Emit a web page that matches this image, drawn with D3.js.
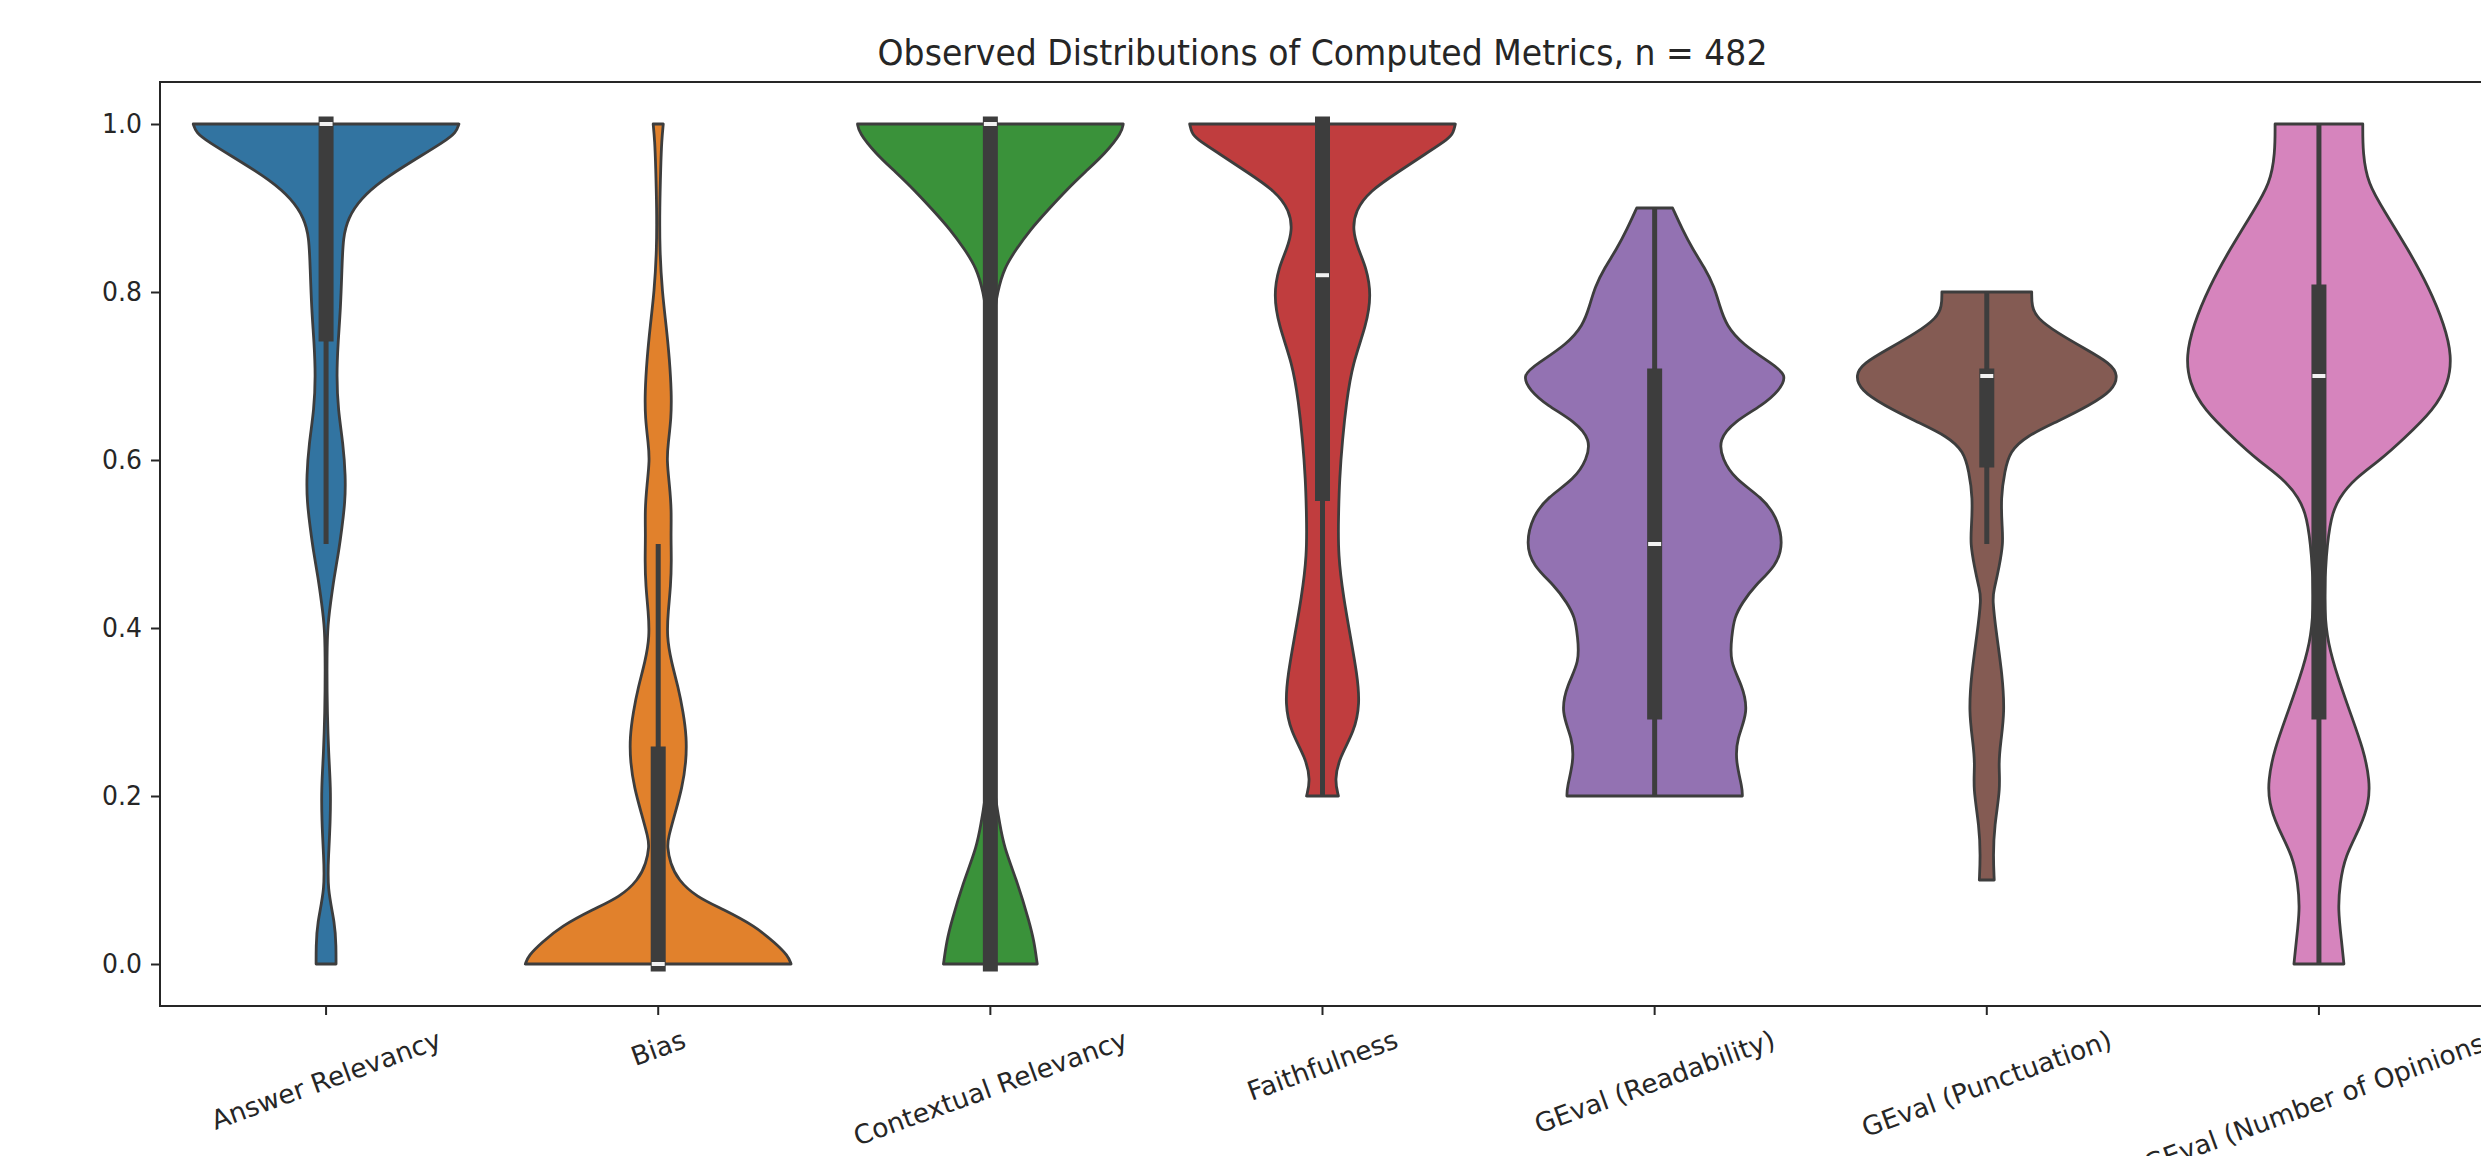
<!DOCTYPE html>
<html>
<head>
<meta charset="utf-8">
<script src="https://cdn.jsdelivr.net/npm/d3@7"></script>
<style>
  html, body { margin: 0; padding: 0; background: #ffffff; overflow: hidden; }
  svg { display: block; }
</style>
</head>
<body>
<svg id="chart" width="2481" height="1156"></svg>
<script>
// ---- data ----------------------------------------------------------------
const chartTitle = "Observed Distributions of Computed Metrics, n = 482";

const categories = [
  "Answer Relevancy", "Bias", "Contextual Relevancy", "Faithfulness",
  "GEval (Readability)", "GEval (Punctuation)", "GEval (Number of Opinions)"
];

const palette = ["#3274a1", "#e1812c", "#3a923a", "#c03d3e", "#9372b2", "#845b53", "#d684bd"];

const yTickValues = [0.0, 0.2, 0.4, 0.6, 0.8, 1.0];

// Kernel density profiles: [score, density relative to the widest violin]
const answerRelevancyDensity = [[1.0,1.0],[0.99,0.98],[0.979,0.89],[0.956,0.65],[0.933,0.42],[0.911,0.26],[0.888,0.165],[0.865,0.128],[0.83,0.12],[0.78,0.109],[0.74,0.09],[0.70,0.079],[0.66,0.09],[0.62,0.128],[0.58,0.147],[0.55,0.143],[0.52,0.12],[0.49,0.094],[0.46,0.06],[0.43,0.034],[0.40,0.009],[0.35,0.006],[0.30,0.009],[0.25,0.019],[0.21,0.035],[0.17,0.032],[0.13,0.019],[0.09,0.008],[0.048,0.068],[0.02,0.075],[0.0,0.075]];
const biasDensity = [[1.0,0.038],[0.98,0.026],[0.95,0.019],[0.9,0.011],[0.85,0.011],[0.8,0.03],[0.76,0.06],[0.72,0.085],[0.68,0.1],[0.65,0.098],[0.62,0.075],[0.6,0.064],[0.57,0.085],[0.54,0.1],[0.51,0.095],[0.48,0.1],[0.45,0.094],[0.42,0.075],[0.39,0.064],[0.36,0.098],[0.33,0.15],[0.30,0.188],[0.27,0.214],[0.24,0.21],[0.21,0.18],[0.18,0.128],[0.15,0.075],[0.14,0.068],[0.12,0.09],[0.10,0.15],[0.08,0.286],[0.065,0.49],[0.045,0.73],[0.025,0.88],[0.01,0.977],[0.0,1.0]];
const contextualRelevancyDensity = [[1.0,1.0],[0.99,0.99],[0.965,0.865],[0.943,0.714],[0.92,0.564],[0.897,0.43],[0.874,0.3],[0.851,0.195],[0.829,0.105],[0.80,0.053],[0.77,0.023],[0.70,0.008],[0.50,0.004],[0.30,0.008],[0.22,0.023],[0.19,0.045],[0.17,0.068],[0.14,0.1],[0.096,0.207],[0.05,0.293],[0.028,0.328],[0.0,0.353]];
const faithfulnessDensity = [[1.0,1.0],[0.99,0.985],[0.983,0.955],[0.965,0.78],[0.943,0.571],[0.92,0.353],[0.897,0.248],[0.874,0.226],[0.851,0.268],[0.829,0.33],[0.797,0.368],[0.76,0.33],[0.715,0.226],[0.669,0.18],[0.624,0.15],[0.578,0.128],[0.533,0.12],[0.487,0.117],[0.436,0.158],[0.39,0.21],[0.345,0.26],[0.31,0.282],[0.277,0.24],[0.246,0.128],[0.219,0.09],[0.2,0.12]];
const readabilityDensity = [[0.9,0.135],[0.874,0.21],[0.851,0.286],[0.829,0.376],[0.806,0.45],[0.783,0.49],[0.76,0.54],[0.738,0.66],[0.715,0.88],[0.701,1.0],[0.683,0.94],[0.665,0.81],[0.646,0.6],[0.624,0.48],[0.601,0.51],[0.578,0.6],[0.555,0.81],[0.533,0.917],[0.501,0.97],[0.474,0.917],[0.45,0.75],[0.43,0.66],[0.413,0.6],[0.39,0.58],[0.36,0.564],[0.332,0.66],[0.3,0.707],[0.268,0.617],[0.241,0.61],[0.21,0.66],[0.2,0.66]];
const punctuationDensity = [[0.8,0.338],[0.783,0.338],[0.769,0.376],[0.751,0.534],[0.733,0.733],[0.715,0.932],[0.701,0.99],[0.683,0.95],[0.665,0.774],[0.646,0.534],[0.628,0.293],[0.61,0.173],[0.587,0.135],[0.555,0.105],[0.519,0.116],[0.501,0.123],[0.474,0.095],[0.446,0.056],[0.436,0.04],[0.39,0.075],[0.345,0.116],[0.3,0.135],[0.264,0.104],[0.237,0.088],[0.21,0.104],[0.164,0.056],[0.128,0.048],[0.1,0.056]];
const opinionsDensity = [[1.0,0.33],[0.965,0.33],[0.929,0.368],[0.897,0.49],[0.851,0.67],[0.806,0.827],[0.76,0.947],[0.724,1.0],[0.692,0.977],[0.66,0.868],[0.624,0.63],[0.601,0.47],[0.578,0.27],[0.555,0.15],[0.533,0.09],[0.487,0.053],[0.433,0.038],[0.39,0.058],[0.355,0.113],[0.3,0.233],[0.255,0.337],[0.218,0.383],[0.192,0.376],[0.164,0.316],[0.128,0.195],[0.096,0.158],[0.065,0.143],[0.028,0.17],[0.0,0.188]];

const densityProfiles = [
  answerRelevancyDensity, biasDensity, contextualRelevancyDensity, faithfulnessDensity,
  readabilityDensity, punctuationDensity, opinionsDensity
];

// Box summary per metric
const quartile1   = [0.75, 0.00, 0.00, 0.56, 0.30, 0.60, 0.30];
const medians     = [1.00, 0.00, 1.00, 0.82, 0.50, 0.70, 0.70];
const quartile3   = [1.00, 0.25, 1.00, 1.00, 0.70, 0.70, 0.80];
const whiskerLow  = [0.50, 0.00, 0.00, 0.20, 0.20, 0.50, 0.00];
const whiskerHigh = [1.00, 0.50, 1.00, 1.00, 0.90, 0.80, 1.00];

// ---- layout ----------------------------------------------------------------
const margin = { left: 160, right: 2485, top: 82, bottom: 1006 };
const font = "DejaVu Sans, Liberation Sans, sans-serif";
const ink = "#262626";
const lineColor = "#3d3d3d";
const tickFont = 27;
const labelFont = 26.5;
const labelAngle = 20;

const svg = d3.select("#chart");

const x = d3.scaleBand().domain(categories).range([margin.left, margin.right]).padding(0);
const y = d3.scaleLinear().domain([-0.05, 1.05]).range([margin.bottom, margin.top]);
const halfWidth = d3.scaleLinear().domain([0, 1]).range([0, x.bandwidth() * 0.4]);
const cx = c => x(c) + x.bandwidth() / 2;

// ---- violins ---------------------------------------------------------------
const plot = svg.append("g");

categories.forEach((cat, i) => {
  const pts = densityProfiles[i].slice().sort((a, b) => a[0] - b[0]);
  const c = cx(cat);
  const area = d3.area()
    .curve(d3.curveBasis)
    .y(d => y(d[0]))
    .x0(d => c - halfWidth(d[1]))
    .x1(d => c + halfWidth(d[1]));

  plot.append("path")
    .attr("d", area(pts))
    .attr("fill", palette[i])
    .attr("stroke", lineColor)
    .attr("stroke-width", 2.8)
    .attr("stroke-linejoin", "round");

  // whisker
  plot.append("line")
    .attr("x1", c).attr("x2", c)
    .attr("y1", y(whiskerLow[i])).attr("y2", y(whiskerHigh[i]))
    .attr("stroke", lineColor).attr("stroke-width", 5);

  // interquartile box
  plot.append("line")
    .attr("x1", c).attr("x2", c)
    .attr("y1", y(quartile1[i])).attr("y2", y(quartile3[i]))
    .attr("stroke", lineColor).attr("stroke-width", 15)
    .attr("stroke-linecap", "square");

  // median marker
  plot.append("rect")
    .attr("x", c - 6.5).attr("y", y(medians[i]) - 2)
    .attr("width", 13).attr("height", 4)
    .attr("fill", "#f2f2f2");
});

// ---- axes ------------------------------------------------------------------
const yAxis = svg.append("g")
  .attr("transform", `translate(${margin.left},0)`)
  .call(d3.axisLeft(y).tickValues(yTickValues).tickFormat(d3.format(".1f"))
    .tickSize(9).tickPadding(9).tickSizeOuter(0));
yAxis.select(".domain").remove();
yAxis.selectAll(".tick line").attr("stroke", ink).attr("stroke-width", 2);
yAxis.selectAll(".tick text")
  .attr("fill", ink).style("font-family", font).style("font-size", tickFont + "px")
  .attr("x", 0)
  .attr("transform", "translate(-18,0) scale(0.93,1)");

const xAxis = svg.append("g")
  .attr("transform", `translate(0,${margin.bottom})`)
  .call(d3.axisBottom(x).tickSize(9).tickSizeOuter(0));
xAxis.select(".domain").remove();
xAxis.selectAll(".tick line").attr("stroke", ink).attr("stroke-width", 2);

// rotated category labels, centred under each tick with the top of their box just below it
const angle = labelAngle * Math.PI / 180;
xAxis.selectAll(".tick text")
  .attr("fill", ink)
  .style("font-family", font).style("font-size", labelFont + "px")
  .attr("text-anchor", "middle")
  .attr("dy", null)
  .each(function () {
    const w = this.getComputedTextLength();
    const h = labelFont * 1.164;
    const half = (w / 2) * Math.sin(angle) + (h / 2) * Math.cos(angle);
    d3.select(this)
      .attr("y", labelFont * 0.346)
      .attr("transform", `translate(0,${18 + half}) rotate(${-labelAngle})`);
  });

// spines
svg.append("rect")
  .attr("x", margin.left).attr("y", margin.top)
  .attr("width", margin.right - margin.left).attr("height", margin.bottom - margin.top)
  .attr("fill", "none").attr("stroke", ink).attr("stroke-width", 2);

// title
svg.append("text")
  .attr("transform", `translate(${(margin.left + margin.right) / 2},65) scale(0.92,1)`)
  .attr("text-anchor", "middle")
  .attr("fill", ink)
  .style("font-family", font).style("font-size", "36px")
  .text(chartTitle);
</script>
</body>
</html>
